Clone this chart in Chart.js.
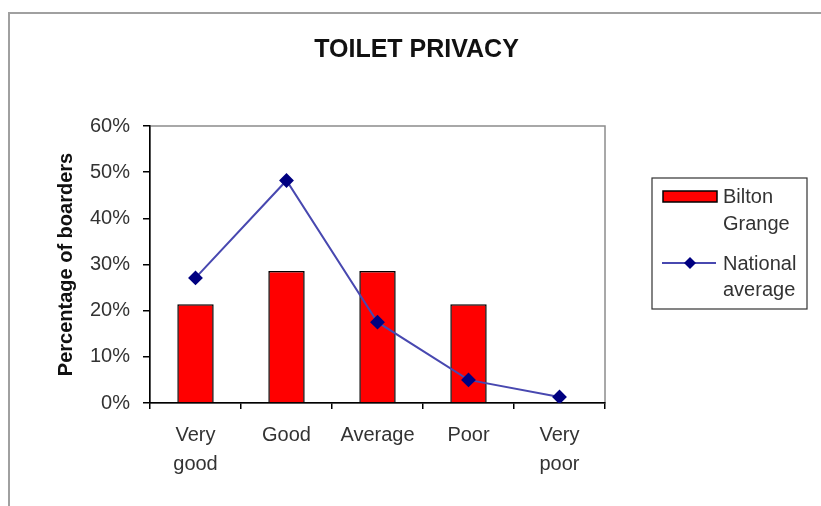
<!DOCTYPE html>
<html>
<head>
<meta charset="utf-8">
<title>Toilet privacy</title>
<script src="https://cdn.jsdelivr.net/npm/chart.js@4"></script>
<style>
  html, body { margin: 0; padding: 0; background: #fff; }
  canvas { display: block; }
</style>
</head>
<body>
<canvas id="chart" width="821" height="506"></canvas>
<script>
// ratings (x axis)
const categories = [['Very', 'good'], 'Good', 'Average', 'Poor', ['Very', 'poor']];
// % of boarders
const biltonGrange = [21.4, 28.6, 28.6, 21.4, 0];
const nationalAverage = [27.1, 48.2, 17.5, 5.0, 1.3];
const yTicks = [0, 10, 20, 30, 40, 50, 60];
const legendLines = [['Bilton', 'Grange'], ['National', 'average']];

const FONT = "'Liberation Sans', Arial, sans-serif";

// white background, outer frame and grey plot border
const framePlugin = {
    id: 'frame',
    beforeDraw(chart) {
        const ctx = chart.ctx;
        const a = chart.chartArea;
        ctx.save();
        ctx.fillStyle = '#fff';
        ctx.fillRect(0, 0, chart.width, chart.height);
        ctx.strokeStyle = '#a0a0a0';
        ctx.lineWidth = 2;
        ctx.beginPath();
        ctx.moveTo(9, chart.height);
        ctx.lineTo(9, 13);
        ctx.lineTo(chart.width, 13);
        ctx.stroke();
        ctx.strokeStyle = '#8c8c8c';
        ctx.lineWidth = 1.5;
        ctx.strokeRect(a.left, a.top, a.right - a.left, a.bottom - a.top);
        ctx.restore();
    }
};

// boxed legend with wrapped labels, like the original
const boxLegend = {
    id: 'boxLegend',
    afterDraw(chart) {
        const ctx = chart.ctx;
        const x = 652, y = 178, w = 155, h = 131;
        ctx.save();
        ctx.strokeStyle = '#333';
        ctx.lineWidth = 1.2;
        ctx.strokeRect(x, y, w, h);
        ctx.font = '20px ' + FONT;
        ctx.textBaseline = 'alphabetic';

        const bar = chart.data.datasets[0];
        ctx.fillStyle = bar.backgroundColor;
        ctx.fillRect(x + 11, y + 13, 54, 11);
        ctx.strokeStyle = '#000';
        ctx.lineWidth = 1.5;
        ctx.strokeRect(x + 11, y + 13, 54, 11);
        ctx.fillStyle = '#333';
        legendLines[0].forEach((t, i) => ctx.fillText(t, x + 71, y + 25 + i * 27));

        const line = chart.data.datasets[1];
        const ly = y + 85;
        ctx.strokeStyle = line.borderColor;
        ctx.lineWidth = 2;
        ctx.beginPath();
        ctx.moveTo(x + 10, ly);
        ctx.lineTo(x + 64, ly);
        ctx.stroke();
        ctx.fillStyle = line.pointBackgroundColor;
        ctx.beginPath();
        ctx.moveTo(x + 38, ly - 6);
        ctx.lineTo(x + 44, ly);
        ctx.lineTo(x + 38, ly + 6);
        ctx.lineTo(x + 32, ly);
        ctx.closePath();
        ctx.fill();
        ctx.fillStyle = '#333';
        legendLines[1].forEach((t, i) => ctx.fillText(t, x + 71, y + 92 + i * 26));
        ctx.restore();
    }
};

new Chart(document.getElementById('chart'), {
    type: 'bar',
    data: {
        labels: categories,
        datasets: [
            {
                label: legendLines[0].join(' '),
                data: biltonGrange,
                backgroundColor: '#ff0000',
                borderColor: '#000',
                borderWidth: 1.5,
                barPercentage: 0.4,
                categoryPercentage: 1,
                order: 2
            },
            {
                type: 'line',
                label: legendLines[1].join(' '),
                data: nationalAverage,
                borderColor: '#4848b0',
                borderWidth: 2,
                pointStyle: 'rectRot',
                pointRadius: 6,
                pointBackgroundColor: '#000080',
                pointBorderColor: '#000080',
                tension: 0,
                order: 1
            }
        ]
    },
    options: {
        responsive: false,
        animation: false,
        layout: { padding: { left: 12, right: 0, top: 0, bottom: 0 } },
        plugins: {
            legend: { display: false },
            tooltip: { enabled: false },
            title: {
                display: true,
                text: 'TOILET PRIVACY',
                color: '#111',
                font: { family: FONT, size: 25, weight: 'bold' },
                padding: { top: 35, bottom: 61 }
            }
        },
        scales: {
            x: {
                offset: true,
                grid: { display: true, drawOnChartArea: false, offset: true, tickLength: 6, color: '#000', lineWidth: 1.5 },
                border: { display: true, color: '#000', width: 1.5 },
                ticks: {
                    color: '#333',
                    padding: 12,
                    maxRotation: 0,
                    autoSkip: false,
                    font: { family: FONT, size: 20, lineHeight: 1.45 }
                },
                afterFit(s) { s.height = 103; }
            },
            y: {
                min: 0,
                max: 60,
                afterBuildTicks(s) { s.ticks = yTicks.map(v => ({ value: v })); },
                grid: { display: true, drawOnChartArea: false, tickLength: 7, color: '#000', lineWidth: 1.5 },
                border: { display: true, color: '#000', width: 1.5 },
                ticks: {
                    color: '#333',
                    padding: 13,
                    font: { family: FONT, size: 20 },
                    callback: v => v + '%'
                },
                title: {
                    display: true,
                    text: 'Percentage of boarders',
                    color: '#111',
                    font: { family: FONT, size: 20, weight: 'bold' },
                    padding: { top: 42, bottom: 0 }
                },
                afterFit(s) { s.width = 138; }
            },
            pad: {
                position: 'right',
                display: true,
                grid: { display: false },
                border: { display: false },
                ticks: { display: false },
                afterFit(s) { s.width = 216; }
            }
        }
    },
    plugins: [framePlugin, boxLegend]
});
</script>
</body>
</html>
